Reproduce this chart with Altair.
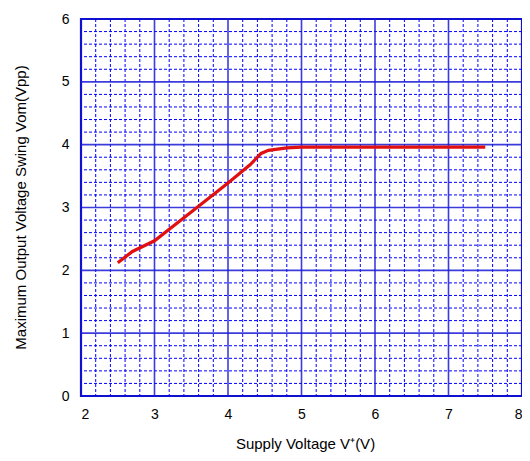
import altair as alt
import pandas as pd

# Curve data
supply_v = [2.5, 2.7, 3.0, 3.5, 4.0, 4.3, 4.45, 4.55, 4.8, 5.0, 6.0, 7.0, 7.5]
vom_vpp = [2.12, 2.30, 2.47, 2.93, 3.39, 3.68, 3.86, 3.91, 3.95, 3.96, 3.96, 3.96, 3.96]

x_ticks = [2, 3, 4, 5, 6, 7, 8]
y_ticks = [0, 1, 2, 3, 4, 5, 6]
x_major_grid = [3, 4, 5, 6, 7]
y_major_grid = [1, 2, 3, 4, 5]
x_minor_grid = [round(2 + 0.2 * i, 1) for i in range(31) if i % 5 != 0]
y_minor_grid = [round(0.2 * i, 1) for i in range(31) if i % 5 != 0]

df = pd.DataFrame({"v": supply_v, "vom": vom_vpp})

xs = alt.Scale(domain=[2, 8], nice=False, zero=False)
ys = alt.Scale(domain=[0, 6], nice=False)

GRID = "#1a1ad6"
FONT = "Liberation Sans"

xminor = alt.Chart(pd.DataFrame({"x": x_minor_grid})).mark_rule(
    color="#0000ff", strokeWidth=1, strokeDash=[3, 2]
).encode(x=alt.X("x:Q", scale=xs))
yminor = alt.Chart(pd.DataFrame({"y": y_minor_grid})).mark_rule(
    color="#0000ff", strokeWidth=1, strokeDash=[3, 2]
).encode(y=alt.Y("y:Q", scale=ys))
xmajor = alt.Chart(pd.DataFrame({"x": x_major_grid})).mark_rule(
    color=GRID, strokeWidth=1.6, opacity=0.85
).encode(x=alt.X("x:Q", scale=xs))
ymajor = alt.Chart(pd.DataFrame({"y": y_major_grid})).mark_rule(
    color=GRID, strokeWidth=1.6, opacity=0.85
).encode(y=alt.Y("y:Q", scale=ys))

line = alt.Chart(df).mark_line(color="#e01010", strokeWidth=3.2).encode(
    x=alt.X(
        "v:Q",
        scale=xs,
        axis=alt.Axis(
            values=x_ticks,
            format="d",
            title="Supply Voltage  V⁺(V)",
            grid=False,
            ticks=False,
            domain=False,
            labelFont=FONT,
            labelFontSize=14,
            labelColor="black",
            labelPadding=11,
            titleFont=FONT,
            titleFontSize=15,
            titleFontWeight="normal",
            titleColor="black",
            titleBaseline="alphabetic",
            titleAlign="center",
            titleX=224,
            titleY=52,
        ),
    ),
    y=alt.Y(
        "vom:Q",
        scale=ys,
        axis=alt.Axis(
            values=y_ticks,
            format="d",
            title="Maximum Output Voltage Swing  Vom(Vpp)",
            grid=False,
            ticks=False,
            domain=False,
            labelFont=FONT,
            labelFontSize=14,
            labelColor="black",
            labelPadding=12,
            titleFont=FONT,
            titleFontSize=15,
            titleFontWeight="normal",
            titleColor="black",
            titleBaseline="alphabetic",
            titleAlign="center",
            titleAngle=270,
            titleX=-56,
            titleY=188,
        ),
    ),
)

chart = (
    alt.layer(xminor, yminor, xmajor, ymajor, line)
    .properties(
        width=441,
        height=377,
        autosize=alt.AutoSizeParams(type="none"),
        padding={"left": 73, "top": 11, "right": 0, "bottom": 57},
        background="white",
    )
    .configure_view(stroke="#1010d0", strokeWidth=2.2)
)

chart.save("out.html", embed_options={"renderer": "svg", "actions": False})
